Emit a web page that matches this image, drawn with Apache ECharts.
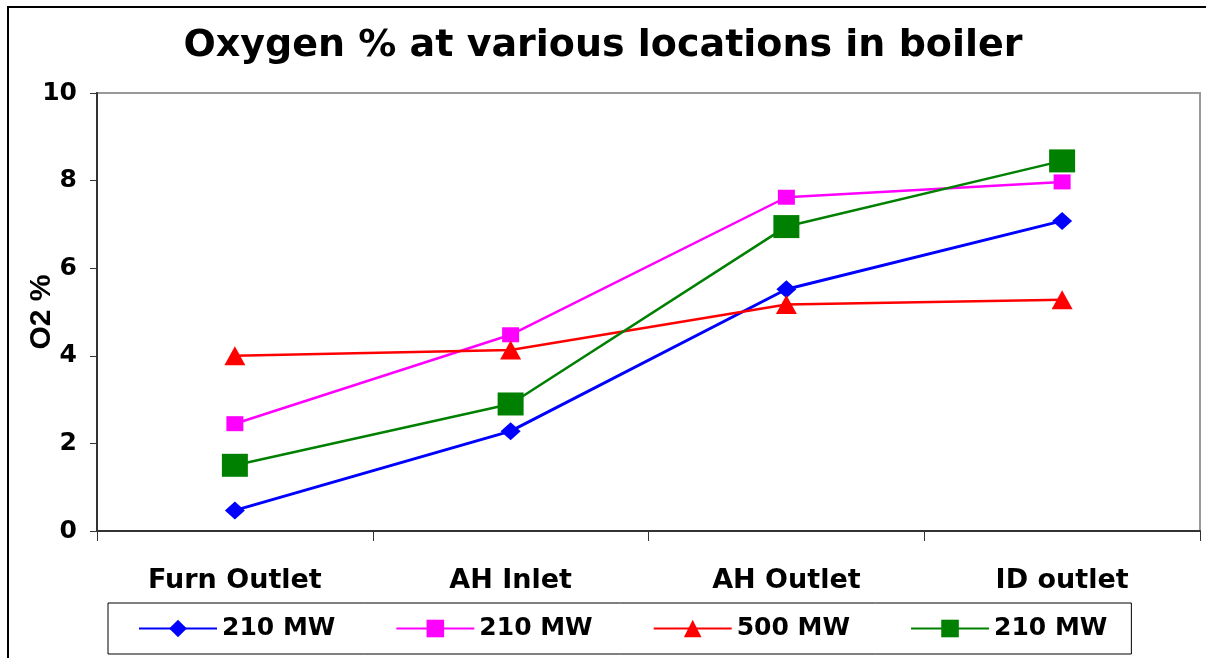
<!DOCTYPE html>
<html>
<head>
<meta charset="utf-8">
<script src="https://cdn.jsdelivr.net/npm/echarts@6/dist/echarts.min.js"></script>
<style>
html,body{margin:0;padding:0;background:#fff;}
#chart{width:1206px;height:658px;}
</style>
</head>
<body>
<div id="chart"></div>
<script>
const titleText = 'Oxygen % at various locations in boiler';
const categories = ['Furn Outlet', 'AH Inlet', 'AH Outlet', 'ID outlet'];
const yTicks = { min: 0, max: 10, interval: 2 };
const seriesNames = ['210 MW', '210 MW ', '500 MW', '210 MW  '];
const blueValues = [0.47, 2.28, 5.52, 7.08];
const magentaValues = [2.45, 4.48, 7.62, 7.97];
const redValues = [4.0, 4.13, 5.17, 5.28];
const greenValues = [1.5, 2.9, 6.95, 8.45];

const chart = echarts.init(document.getElementById('chart'), null, { renderer: 'canvas' });
const bold = 'DejaVu Sans';
function mk(name, data, color, symbol, size, width) {
  return {
    name: name, type: 'line', data: data,
    symbol: symbol, symbolSize: size,
    lineStyle: { color: color, width: width },
    itemStyle: { color: color },
    emphasis: { disabled: true },
    animation: false
  };
}
chart.setOption({
  backgroundColor: '#fff',
  animation: false,
  title: {
    text: titleText, left: 'center', top: 22,
    textStyle: { fontFamily: bold, fontWeight: 'bold', fontSize: 38, color: '#000' }
  },
  graphic: [{
    type: 'rect', silent: true,
    shape: { x: 8, y: 7, width: 1400, height: 800 },
    style: { fill: null, stroke: '#000', lineWidth: 2 }
  }],
  grid: {
    left: 97, right: 6, top: 93, bottom: 127,
    outerBoundsMode: 'none', containLabel: false,
    show: true, borderColor: '#999', borderWidth: 2, backgroundColor: 'transparent'
  },
  xAxis: {
    type: 'category', data: categories, boundaryGap: true,
    axisLine: { lineStyle: { color: '#333', width: 2 } },
    axisTick: { show: true, length: 10, lineStyle: { color: '#333', width: 1 } },
    axisLabel: { margin: 36, color: '#000', fontFamily: bold, fontWeight: 'bold', fontSize: 27 },
    splitLine: { show: false }
  },
  yAxis: {
    type: 'value', min: yTicks.min, max: yTicks.max, interval: yTicks.interval,
    name: 'O2 %', nameLocation: 'middle', nameGap: 40, nameRotate: 90,
    nameMoveOverlap: false,
    nameTextStyle: { fontFamily: 'Liberation Sans', fontWeight: 'bold', fontSize: 30, color: '#000' },
    axisLine: { show: true, lineStyle: { color: '#333', width: 2 } },
    axisTick: { show: true, length: 7, lineStyle: { color: '#333', width: 1 } },
    axisLabel: { margin: 20, color: '#000', fontFamily: bold, fontWeight: 'bold', fontSize: 25 },
    splitLine: { show: false }
  },
  legend: {
    left: 108, top: 603,
    padding: [13, 24, 13, 30],
    borderColor: '#000', borderWidth: 1,
    itemWidth: 78, itemHeight: 22, itemGap: 60,
    textStyle: { fontFamily: bold, fontWeight: 'bold', fontSize: 25, color: '#000' },
    formatter: function (n) { return n.trim(); },
    data: seriesNames
  },
  series: [
    mk(seriesNames[0], blueValues, '#0000FF', 'diamond', [20, 18], 3),
    mk(seriesNames[1], magentaValues, '#FF00FF', 'rect', [17, 15], 2.5),
    mk(seriesNames[2], redValues, '#FF0000', 'triangle', [21, 19], 2.5),
    mk(seriesNames[3], greenValues, '#008000', 'rect', [26, 23], 2.5)
  ]
});
</script>
</body>
</html>
